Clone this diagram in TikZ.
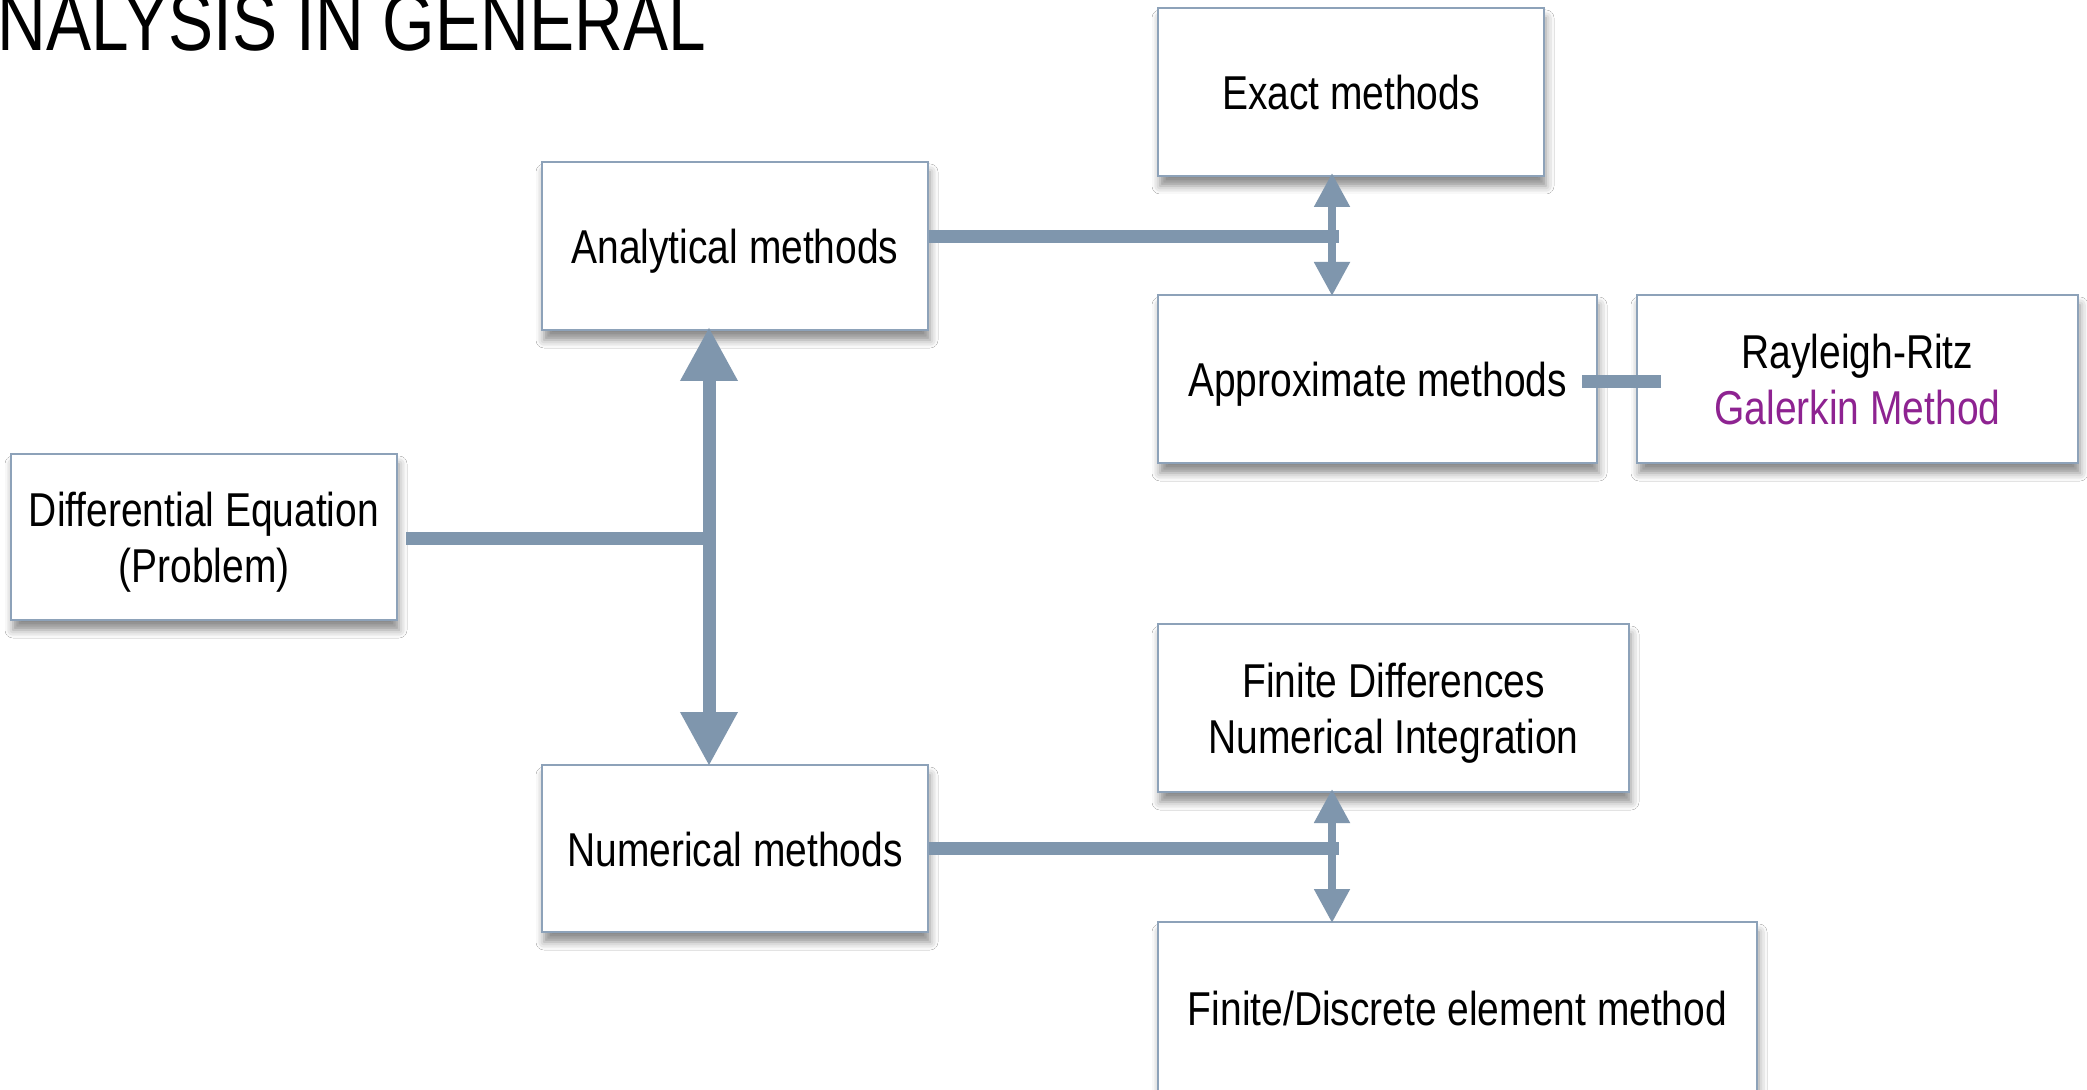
\documentclass[tikz,border=0pt]{standalone}
\usepackage{fontspec}
\setmainfont{Liberation Sans}
\newfontfamily\narrowfont[FakeStretch=0.82]{Liberation Sans}
\usetikzlibrary{arrows.meta,shadows.blur,calc}
\definecolor{conn}{HTML}{7F96AD}
\definecolor{boxline}{HTML}{8DA2B9}
\definecolor{galerkin}{HTML}{8E2391}
\newcommand\lowtext[1]{\raisebox{-3.3pt}[\height][\depth]{\begin{tabular}{@{}c@{}}#1\end{tabular}}}
\tikzset{
  boxnode/.style={draw=boxline, line width=1pt, fill=white, rectangle,
    inner sep=0pt, align=center,
    font=\narrowfont\fontsize{23.75}{28}\selectfont,
    blur shadow={shadow xshift=1pt, shadow yshift=-5pt, shadow blur radius=4pt, shadow opacity=45}},
  thickconn/.style={draw=conn, line width=6.5pt},
  thinconn/.style={draw=conn, line width=4pt},
  bigtips/.style={{Triangle[length=27pt 0 0,width=27pt 0 0]}-{Triangle[length=27pt 0 0,width=27pt 0 0]}},
  smalltips/.style={{Triangle[length=17pt 0 0,width=17pt 0 0]}-{Triangle[length=17pt 0 0,width=17pt 0 0]}},
}
\begin{document}
\begin{tikzpicture}[x=0.5pt,y=-0.5pt]
\useasboundingbox (0,0) rectangle (2087,1090);
\clip (0,0) rectangle (2087,1090);
\fill[white] (0,0) rectangle (2087,1090);

\node[anchor=base west, inner sep=0pt, font=\narrowfont\fontsize{41.2}{44}\selectfont] (title) at (-3,51) {NALYSIS IN GENERAL};

\node[boxnode, minimum width=193pt, minimum height=83pt] (de) at (204,537) {\lowtext{Differential Equation\\(Problem)}};
\node[boxnode, minimum width=193pt, minimum height=84pt] (an) at (735,246) {\lowtext{Analytical methods}};
\node[boxnode, minimum width=193pt, minimum height=83.5pt] (nu) at (735,848.5) {\lowtext{Numerical methods}};
\node[boxnode, minimum width=193pt, minimum height=84pt] (ex) at (1351,92) {\lowtext{Exact methods}};
\node[boxnode, minimum width=219.5pt, minimum height=84pt] (ap) at (1377.5,379) {\lowtext{Approximate methods}};
\node[boxnode, minimum width=220.5pt, minimum height=84pt] (rr) at (1857.5,379) {\lowtext{Rayleigh-Ritz\\\textcolor{galerkin}{Galerkin Method}}};
\node[boxnode, minimum width=235.5pt, minimum height=84pt] (fd) at (1393.5,708) {\lowtext{Finite Differences\\Numerical Integration}};
\node[boxnode, minimum width=299.5pt, minimum height=86pt] (fe) at (1457.5,1008) {\lowtext{Finite/Discrete element method}};

\coordinate (j1) at (709,539);
\coordinate (j2) at (1332,237);
\coordinate (j3) at (1332,848);

% differential equation to main vertical
\draw[thickconn] ([xshift=4pt]de.east |- j1) -- ([xshift=3pt]j1);
\draw[thickconn, bigtips] ([yshift=2pt]an.south -| j1) -- ([yshift=-1pt]nu.north -| j1);

% analytical branch
\draw[thickconn] (an.east |- j2) -- ([xshift=3.5pt]j2);
\draw[thinconn, smalltips] ([yshift=2pt]ex.south -| j2) -- ([yshift=-1pt]ap.north -| j2);

% approximate to Rayleigh-Ritz
\draw[thickconn] ([xshift=-8pt,yshift=-1.5pt]ap.east) -- ([xshift=12.5pt,yshift=-1.5pt]rr.west);

% numerical branch
\draw[thickconn] (nu.east |- j3) -- ([xshift=3.5pt]j3);
\draw[thinconn, smalltips] ([yshift=2pt]fd.south -| j3) -- ([yshift=-1pt]fe.north -| j3);
\end{tikzpicture}
\end{document}
